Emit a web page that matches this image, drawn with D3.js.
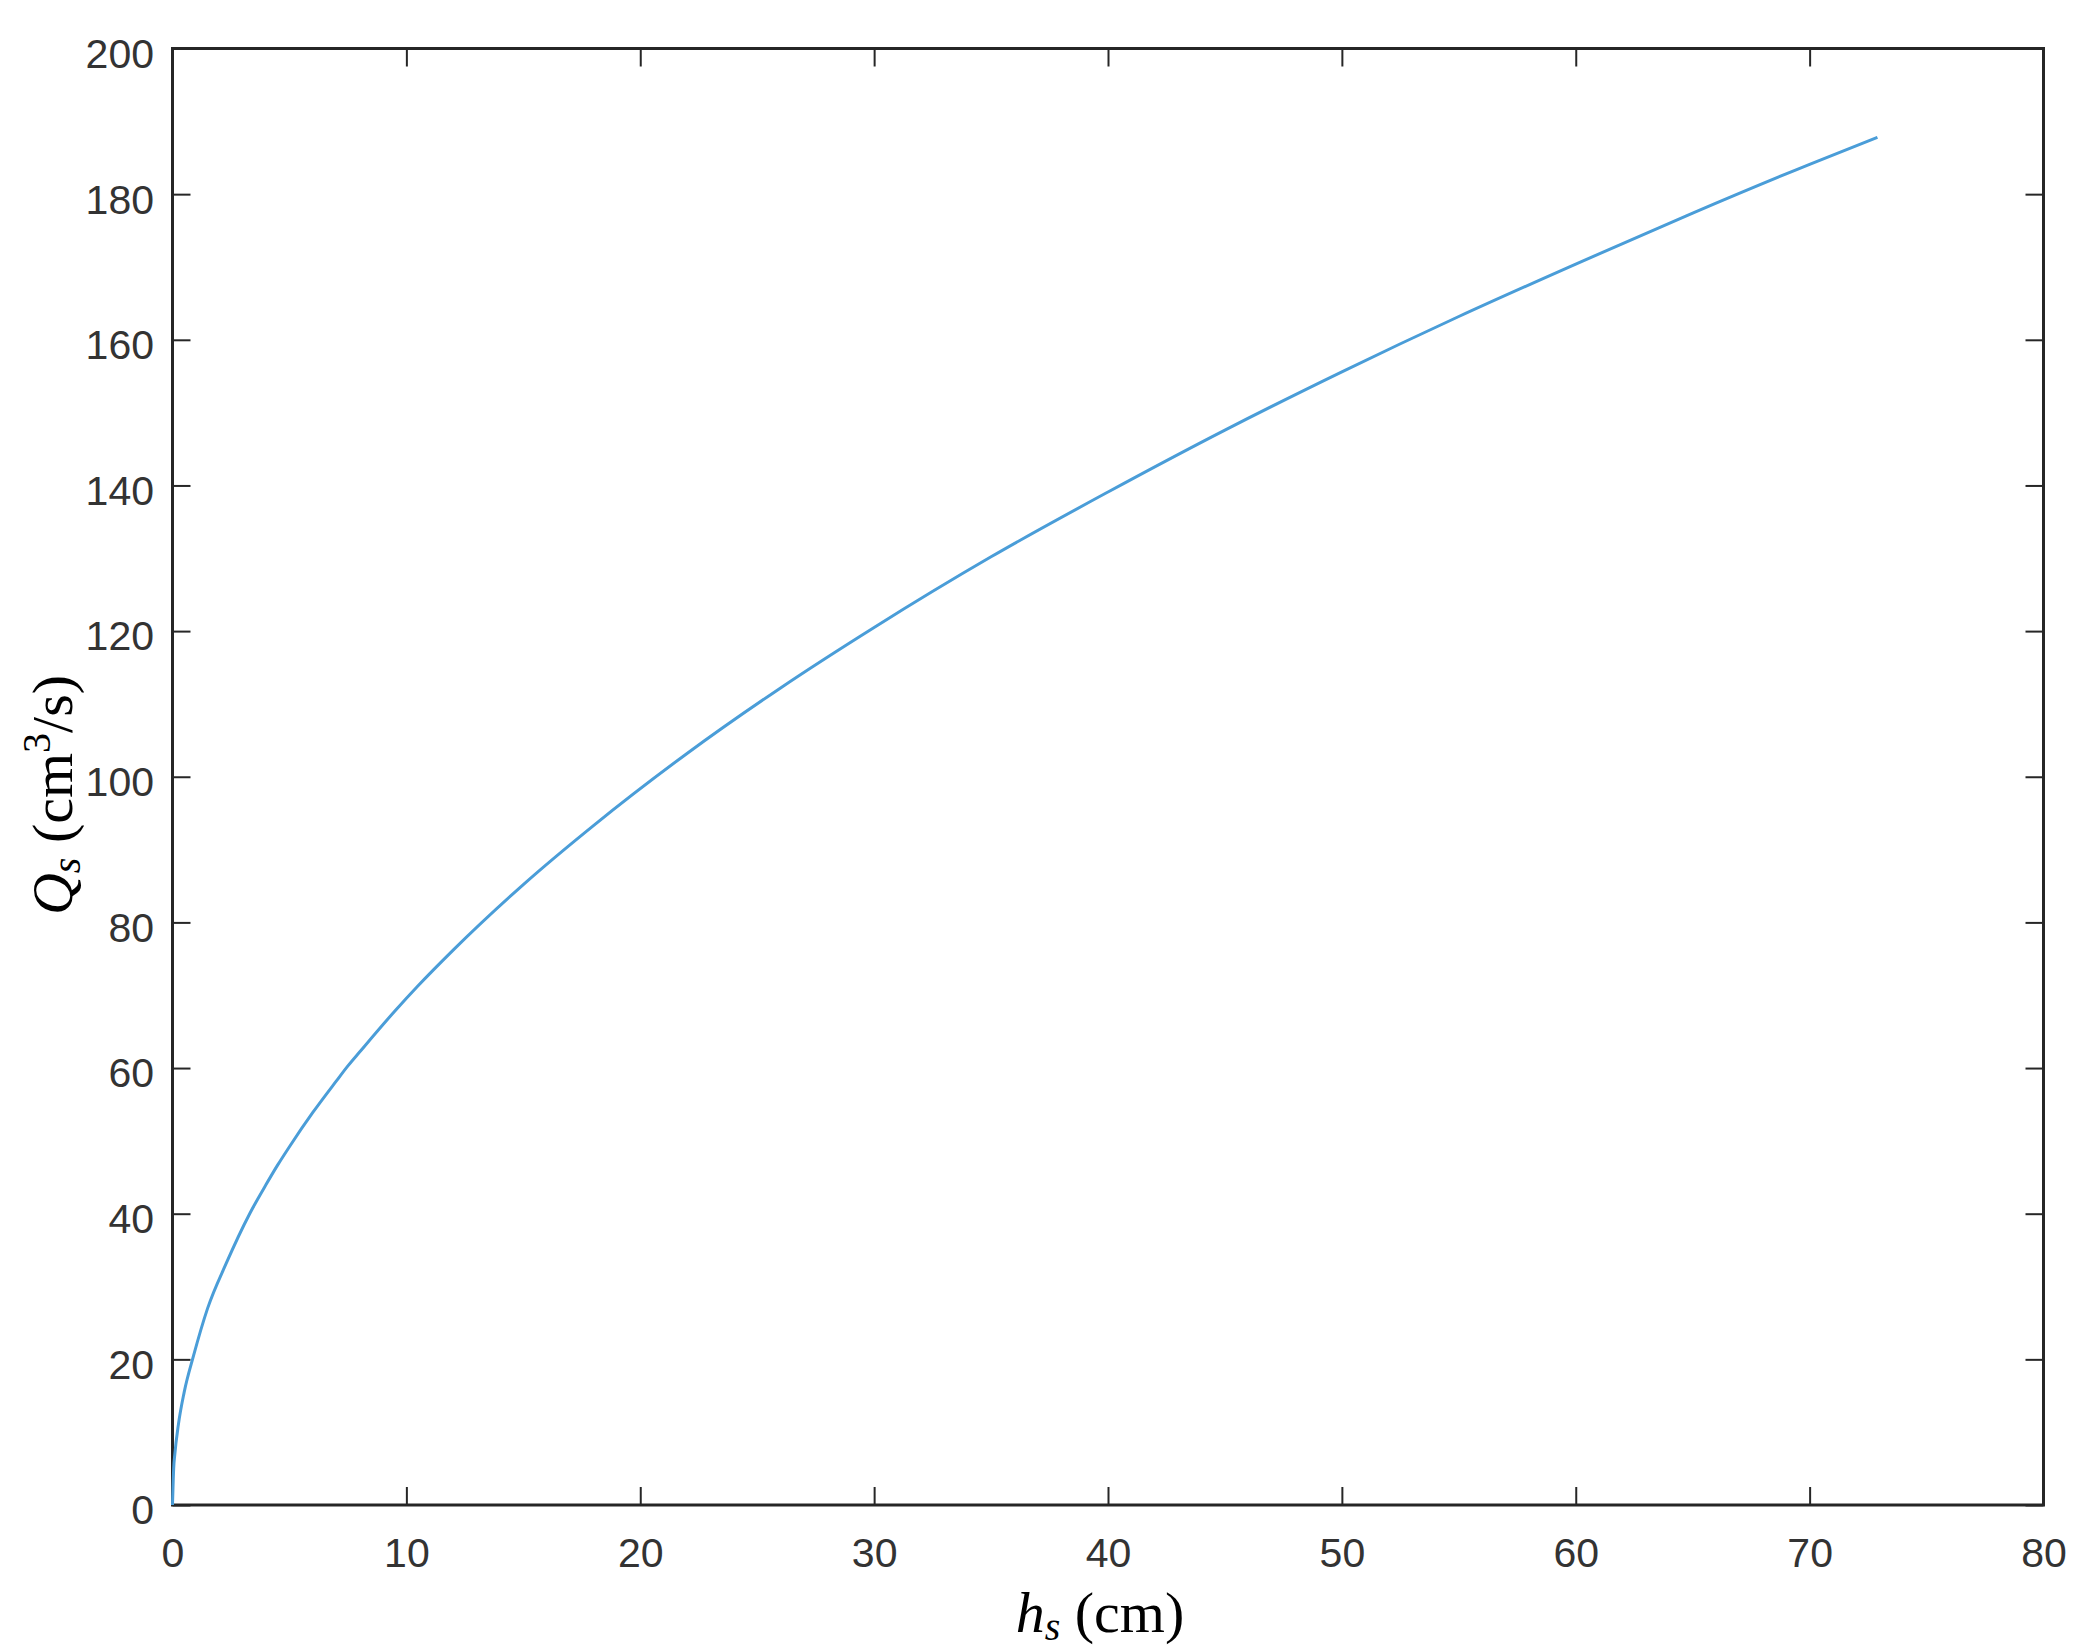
<!DOCTYPE html>
<html>
<head>
<meta charset="utf-8">
<script src="https://cdn.jsdelivr.net/npm/d3@7"></script>
<style>
  body { margin: 0; background: #fff; }
  .tick text { font-family: "Liberation Sans", Arial, sans-serif; font-size: 41px; fill: #333; }
  .tick line { stroke: #262626; stroke-width: 2; }
  .domain { display: none; }
  .label { font-family: "Liberation Serif", "Times New Roman", serif; font-size: 58px; fill: #000; }
</style>
</head>
<body>
<div id="chart"></div>
<script>
(function () {
    'use strict';

    // values: water head h_s (cm) and discharge Q_s (cm^3/s)
    var headCm = [0, 0.05, 0.1, 0.25, 0.5, 0.9, 1.5, 2.3, 3.3, 4, 4.5, 5, 6, 7, 7.5, 8, 9.5, 10.5,
        12, 15, 18, 22, 26, 30, 35, 40, 45, 50, 55, 60, 65, 70, 72.9];
    var flowCm3s = [0, 5, 7, 11, 15.5, 20.5, 27, 33.2, 40, 44, 46.7, 49.2, 53.9, 58.2, 60.3, 62.2, 67.8, 71.3,
        76.2, 85.2, 93.3, 103.2, 112.2, 120.5, 130.2, 139.1, 147.6, 155.6, 163.2, 170.4, 177.4, 184.1, 187.8];
    var xTicks = [0, 10, 20, 30, 40, 50, 60, 70, 80];
    var yTicks = [0, 20, 40, 60, 80, 100, 120, 140, 160, 180, 200];

    var W = 2078, H = 1650;
    var margin = { top: 48.5, right: 34.5, bottom: 145, left: 172.5 },
        width = W - margin.left - margin.right,
        height = H - margin.top - margin.bottom,
        tickLen = 18;

    var svg = d3.select('#chart')
        .append('svg')
        .attr('width', W)
        .attr('height', H);

    var g = svg.append('g')
        .attr('transform', 'translate(' + margin.left + ',' + margin.top + ')');

    var x = d3.scaleLinear().domain([0, 80]).range([0, width]);
    var y = d3.scaleLinear().domain([0, 200]).range([height, 0]);

    // axes, ticks pointing inward
    g.append('g')
        .attr('transform', 'translate(0,' + height + ')')
        .call(d3.axisBottom(x).tickValues(xTicks).tickSize(-tickLen).tickPadding(33));

    g.append('g')
        .call(d3.axisTop(x).tickValues(xTicks).tickSize(-tickLen).tickFormat(''));

    var yAxis = g.append('g')
        .call(d3.axisLeft(y).tickValues(yTicks).tickSize(-tickLen).tickPadding(18.5));
    yAxis.selectAll('text').attr('dy', '0.46em');

    g.append('g')
        .attr('transform', 'translate(' + width + ',0)')
        .call(d3.axisRight(y).tickValues(yTicks).tickSize(-tickLen).tickFormat(''));

    // box
    g.append('rect')
        .attr('width', width)
        .attr('height', height)
        .attr('fill', 'none')
        .attr('stroke', '#262626')
        .attr('stroke-width', 3);

    var line = d3.line()
        .x(function (d, i) { return x(headCm[i]); })
        .y(function (d) { return y(d); })
        .curve(d3.curveMonotoneX);

    g.append('path')
        .datum(flowCm3s)
        .attr('d', line)
        .attr('fill', 'none')
        .attr('stroke', '#4a9dd8')
        .attr('stroke-width', 3);

    // x label: h_s (cm)
    var xl = svg.append('text')
        .attr('class', 'label')
        .attr('x', 1100)
        .attr('y', 1632)
        .attr('text-anchor', 'middle');
    xl.append('tspan').attr('font-style', 'italic').text('h');
    xl.append('tspan').attr('font-style', 'italic').attr('font-size', '40px').attr('dy', 8).text('s');
    xl.append('tspan').attr('dy', -8).text(' (cm)');

    // y label: Q_s (cm^3/s)
    var yl = svg.append('text')
        .attr('class', 'label')
        .attr('transform', 'translate(72,795) rotate(-90)')
        .attr('text-anchor', 'middle');
    yl.append('tspan').attr('font-style', 'italic').text('Q');
    yl.append('tspan').attr('font-style', 'italic').attr('font-size', '40px').attr('dy', 8).text('s');
    yl.append('tspan').attr('dy', -8).text(' (cm');
    yl.append('tspan').attr('font-size', '40px').attr('dy', -22).text('3');
    yl.append('tspan').attr('dy', 22).text('/s)');
})();
</script>
</body>
</html>
